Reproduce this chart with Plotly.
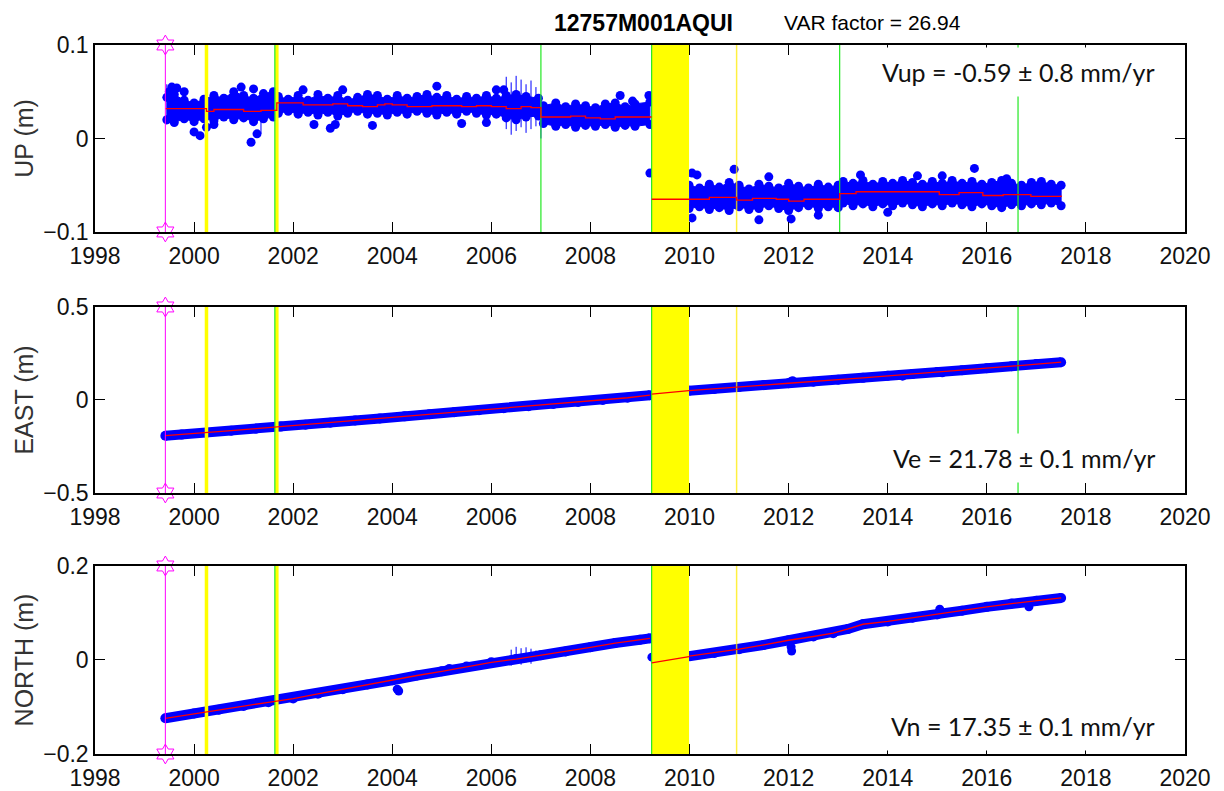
import plotly.graph_objects as go
from plotly.subplots import make_subplots

# ---------------- axes / labels ----------------
X_RANGE = [1998, 2020]
X_TICKS = [1998, 2000, 2002, 2004, 2006, 2008, 2010, 2012, 2014, 2016, 2018, 2020]
PANELS = ["UP", "EAST", "NORTH"]
Y_TITLES = ["UP (m)", "EAST (m)", "NORTH (m)"]
Y_RANGES = [[-0.1, 0.1], [-0.5, 0.5], [-0.2, 0.2]]
Y_TICKS = [[-0.1, 0, 0.1], [-0.5, 0, 0.5], [-0.2, 0, 0.2]]
Y_TICKTEXT = [["\u22120.1", "0", "0.1"], ["\u22120.5", "0", "0.5"], ["\u22120.2", "0", "0.2"]]
VEL_TEXT = ["Vup = -0.59 \u00b1 0.8 mm/yr", "Ve = 21.78 \u00b1 0.1 mm/yr", "Vn = 17.35 \u00b1 0.1 mm/yr"]
STATION = "12757M001AQUI"
VAR_TEXT = "VAR factor = 26.94"

# ---------------- events ----------------
MAGENTA_T = 1999.42
YELLOW_THICK_T = [2000.25, 2001.67]
GREEN_ALL_T = [2001.63, 2009.235]
YELLOW_THIN_T = [2010.95]
GREEN_EXTRA_T = [[2007.0, 2013.03, 2016.63], [2016.63], []]
GAP_T = [2009.235, 2009.99]

# ---------------- UP data (envelope of the daily points) ----------------
UP_A_T = [1999.45, 1999.6, 1999.8, 2000.0, 2000.2, 2000.4, 2000.6, 2000.8, 2001.0, 2001.2, 2001.4, 2001.6,
          2001.7, 2001.9, 2002.1, 2002.3, 2002.5, 2002.7, 2002.9, 2003.1, 2003.3, 2003.5, 2003.7, 2003.9,
          2004.1, 2004.3, 2004.5, 2004.7, 2004.9, 2005.1, 2005.3, 2005.5, 2005.7, 2005.9, 2006.1, 2006.3,
          2006.5, 2006.7, 2006.95,
          2007.05, 2007.3, 2007.5, 2007.7, 2007.9, 2008.1, 2008.3, 2008.5, 2008.7, 2008.9, 2009.2]
UP_A_HI = [0.044, 0.047, 0.041, 0.038, 0.042, 0.046, 0.043, 0.050, 0.046, 0.043, 0.048, 0.050,
           0.045, 0.042, 0.046, 0.041, 0.047, 0.043, 0.046, 0.041, 0.044, 0.047, 0.046, 0.042,
           0.046, 0.043, 0.045, 0.047, 0.044, 0.046, 0.042, 0.045, 0.043, 0.046, 0.043, 0.046,
           0.047, 0.045, 0.043,
           0.035, 0.038, 0.034, 0.037, 0.035, 0.033, 0.037, 0.038, 0.034, 0.037, 0.039]
UP_A_LO = [0.020, 0.017, 0.021, 0.018, 0.021, 0.019, 0.023, 0.020, 0.022, 0.018, 0.021, 0.023,
           0.027, 0.029, 0.026, 0.028, 0.025, 0.028, 0.024, 0.027, 0.029, 0.026, 0.027, 0.025,
           0.028, 0.026, 0.029, 0.027, 0.025, 0.028, 0.026, 0.029, 0.027, 0.025, 0.026, 0.022,
           0.020, 0.023, 0.024,
           0.016, 0.013, 0.015, 0.012, 0.014, 0.013, 0.015, 0.012, 0.014, 0.013, 0.015]
UP_B_T = [2009.99, 2010.2, 2010.4, 2010.6, 2010.8, 2011.0, 2011.2, 2011.4, 2011.6, 2011.8, 2012.0, 2012.2,
          2012.4, 2012.6, 2012.8, 2013.0,
          2013.1, 2013.3, 2013.5, 2013.7, 2013.9, 2014.1, 2014.3, 2014.5, 2014.7, 2014.9, 2015.1, 2015.3,
          2015.5, 2015.7, 2015.9, 2016.1, 2016.3, 2016.5, 2016.7, 2016.9, 2017.1, 2017.3, 2017.5]
UP_B_HI = [-0.050, -0.053, -0.049, -0.052, -0.047, -0.050, -0.054, -0.049, -0.051, -0.053, -0.048, -0.051,
           -0.053, -0.049, -0.052, -0.050,
           -0.046, -0.048, -0.045, -0.049, -0.046, -0.048, -0.045, -0.047, -0.049, -0.046, -0.048, -0.045,
           -0.048, -0.046, -0.049, -0.047, -0.045, -0.048, -0.050, -0.047, -0.046, -0.049, -0.050]
UP_B_LO = [-0.075, -0.073, -0.076, -0.074, -0.077, -0.073, -0.076, -0.075, -0.072, -0.075, -0.077, -0.074,
           -0.072, -0.075, -0.073, -0.074,
           -0.069, -0.072, -0.070, -0.073, -0.070, -0.072, -0.069, -0.071, -0.073, -0.070, -0.072, -0.069,
           -0.071, -0.073, -0.070, -0.072, -0.074, -0.071, -0.072, -0.070, -0.071, -0.069, -0.072]
UP_OUT_T = [1999.5, 1999.55, 1999.65, 1999.8, 2000.0, 2000.12, 2000.25, 2000.4, 2001.15, 2001.27, 2000.95,
            2001.2, 2002.2, 2002.42, 2002.75, 2002.85, 2003.6, 2004.9, 2005.4, 2006.1, 2006.25, 2008.6,
            2008.85, 2009.18, 2009.2, 2010.05, 2010.15, 2010.9, 2011.4, 2012.05, 2010.05, 2011.6, 2013.45,
            2014.6, 2015.75, 2015.1, 2016.4, 2003.0, 2005.9, 2012.6, 2014.0]
UP_OUT_V = [0.050, 0.055, 0.054, 0.050, 0.007, 0.003, 0.012, 0.015, -0.004, 0.005, 0.055,
            0.053, 0.052, 0.015, 0.011, 0.015, 0.014, 0.056, 0.016, 0.052, 0.052, 0.046,
            0.040, 0.046, -0.037, -0.037, -0.039, -0.033, -0.087, -0.086, -0.085, -0.041, -0.039,
            -0.040, -0.032, -0.040, -0.043, 0.052, 0.017, -0.082, -0.079]
UP_ERR_T = [1999.45, 2001.35, 2006.3, 2006.4, 2006.5, 2006.6, 2006.7, 2006.8, 2006.9, 2007.0]
UP_ERR_LO = [0.015, 0.005, 0.010, 0.004, 0.008, 0.012, 0.006, 0.010, 0.013, 0.000]
UP_ERR_HI = [0.058, 0.030, 0.066, 0.060, 0.067, 0.063, 0.058, 0.062, 0.055, 0.045]
UP_MODEL_A_T = [1999.42, 2000.25, 2000.4, 2000.7, 2001.0, 2001.35, 2001.67, 2002.2, 2002.5, 2002.8, 2003.1,
                2003.4, 2003.7, 2003.85, 2004.0, 2004.3, 2004.8, 2005.4, 2005.7, 2006.0, 2006.3, 2006.6,
                2006.8, 2007.0, 2007.6, 2007.9, 2008.2, 2008.5, 2008.8, 2009.235]
UP_MODEL_A_V = [0.032, 0.029, 0.031, 0.031, 0.029, 0.030, 0.038, 0.036, 0.036, 0.037, 0.035,
                0.034, 0.036, 0.037, 0.036, 0.034, 0.035, 0.034, 0.035, 0.034, 0.032, 0.034,
                0.033, 0.023, 0.024, 0.022, 0.021, 0.023, 0.023, 0.023]
UP_MODEL_B_T = [2009.235, 2010.4, 2010.95, 2011.27, 2011.75, 2012.0, 2012.31, 2013.03, 2013.36, 2014.48,
                2015.04, 2015.44, 2015.92, 2016.33, 2016.89, 2017.5]
UP_MODEL_B_V = [-0.065, -0.063, -0.066, -0.064, -0.065, -0.067, -0.065, -0.059, -0.057, -0.057,
                -0.060, -0.058, -0.061, -0.060, -0.062, -0.061]

# ---------------- EAST data ----------------
EAST_A_T = [1999.42, 1999.75, 2000.25, 2000.75, 2001.25, 2001.75, 2002.25, 2002.75, 2003.25, 2003.75,
            2004.25, 2004.75, 2005.25, 2005.75, 2006.25, 2006.75, 2007.25, 2007.75, 2008.25, 2008.75, 2009.2]
EAST_A_V = [-0.192, -0.186, -0.176, -0.165, -0.154, -0.143, -0.133, -0.122, -0.110, -0.099,
            -0.088, -0.077, -0.066, -0.055, -0.044, -0.033, -0.022, -0.011, 0.000, 0.012, 0.026]
EAST_B_T = [2009.99, 2010.5, 2011.0, 2011.5, 2012.0, 2012.5, 2013.0, 2013.5, 2014.0, 2014.5, 2015.0,
            2015.5, 2016.0, 2016.5, 2017.0, 2017.5]
EAST_B_V = [0.050, 0.059, 0.070, 0.080, 0.090, 0.098, 0.109, 0.119, 0.130, 0.140, 0.150,
            0.160, 0.171, 0.182, 0.193, 0.203]
EAST_OUT_T = [2012.05, 2012.08, 2014.3, 2015.1]
EAST_OUT_V = [0.100, 0.104, 0.128, 0.146]
EAST_GAP_MODEL_V = [0.032, 0.050]

# ---------------- NORTH data ----------------
NORTH_A_T = [1999.42, 2000.0, 2000.5, 2001.0, 2001.5, 2002.0, 2002.5, 2003.0, 2003.5, 2004.0, 2004.5,
             2005.0, 2005.5, 2006.0, 2006.5, 2007.0, 2007.5, 2008.0, 2008.5, 2009.0, 2009.2]
NORTH_A_V = [-0.124, -0.114, -0.106, -0.098, -0.090, -0.082, -0.072, -0.062, -0.052, -0.043, -0.033,
             -0.024, -0.014, -0.005, 0.002, 0.010, 0.018, 0.027, 0.036, 0.043, 0.046]
NORTH_B_T = [2009.99, 2010.5, 2011.0, 2011.5, 2012.0, 2012.5, 2012.9, 2013.2, 2013.5, 2014.0, 2014.5,
             2015.0, 2015.5, 2016.0, 2016.5, 2017.0, 2017.5]
NORTH_B_V = [0.008, 0.015, 0.023, 0.032, 0.042, 0.050, 0.057, 0.066, 0.076, 0.082, 0.090,
             0.097, 0.105, 0.113, 0.120, 0.126, 0.132]
NORTH_OUT_T = [2004.1, 2004.13, 2005.15, 2009.24, 2012.05, 2012.06, 2015.05, 2016.85]
NORTH_OUT_V = [-0.062, -0.066, -0.018, 0.006, 0.028, 0.019, 0.108, 0.113]
NORTH_ERR_T = [2006.4, 2006.5, 2006.6, 2006.7, 2006.8, 2006.9]
NORTH_ERR_LO = [-0.012, -0.008, -0.010, -0.005, -0.008, 0.000]
NORTH_ERR_HI = [0.022, 0.028, 0.025, 0.027, 0.024, 0.020]
NORTH_GAP_MODEL_V = [-0.006, 0.007]

# ---------------- styling ----------------
BLUE = "#0000FF"
RED = "#FF0000"
YELLOW = "#FFFF00"
GREEN = "#22E822"
MAGENTA = "#FF00FF"
TICK_FONT = dict(family="Liberation Sans, Arial, sans-serif", size=23, color="#111111")
TITLE_FONT = dict(family="Liberation Sans, Arial, sans-serif", size=25, color="#333333")
VEL_FONT = dict(family="Lato, sans-serif", size=25, color="#111111")
DOMAINS = [[0.7363, 1.0], [0.3681, 0.6305], [0.0, 0.2652]]
VEL_Y = [0.855, 0.19, 0.15]

fig = make_subplots(rows=3, cols=1)


def vline(row, t, yr, color, width):
    fig.add_trace(go.Scatter(x=[t, t], y=yr, mode="lines", line=dict(color=color, width=width),
                             hoverinfo="skip", showlegend=False), row=row, col=1)


def err_bars(row, ts, los, his):
    xs, ys = [], []
    for t, lo, hi in zip(ts, los, his):
        xs += [t, t, None]
        ys += [lo, hi, None]
    fig.add_trace(go.Scatter(x=xs, y=ys, mode="lines", line=dict(color=BLUE, width=1),
                             hoverinfo="skip", showlegend=False), row=row, col=1)


def band(row, ts, hi, lo):
    fig.add_trace(go.Scatter(x=ts + ts[::-1], y=hi + lo[::-1], mode="lines", fill="toself",
                             fillcolor=BLUE, line=dict(color=BLUE, width=1),
                             hoverinfo="skip", showlegend=False), row=row, col=1)
    fig.add_trace(go.Scatter(x=ts + ts, y=hi + lo, mode="markers",
                             marker=dict(color=BLUE, size=9),
                             hoverinfo="skip", showlegend=False), row=row, col=1)


def thick_series(row, ts, vs):
    fig.add_trace(go.Scatter(x=ts, y=vs, mode="lines+markers", line=dict(color=BLUE, width=10),
                             marker=dict(color=BLUE, size=10),
                             hoverinfo="skip", showlegend=False), row=row, col=1)


def points(row, ts, vs):
    fig.add_trace(go.Scatter(x=ts, y=vs, mode="markers", marker=dict(color=BLUE, size=9),
                             hoverinfo="skip", showlegend=False), row=row, col=1)


def model(row, ts, vs, shape="hv"):
    fig.add_trace(go.Scatter(x=ts, y=vs, mode="lines", line=dict(color=RED, width=1.3, shape=shape),
                             hoverinfo="skip", showlegend=False), row=row, col=1)


# ----- data layers -----
band(1, UP_A_T, UP_A_HI, UP_A_LO)
band(1, UP_B_T, UP_B_HI, UP_B_LO)
points(1, UP_OUT_T, UP_OUT_V)
err_bars(1, UP_ERR_T, UP_ERR_LO, UP_ERR_HI)

thick_series(2, EAST_A_T, EAST_A_V)
thick_series(2, EAST_B_T, EAST_B_V)
points(2, EAST_OUT_T, EAST_OUT_V)

thick_series(3, NORTH_A_T, NORTH_A_V)
thick_series(3, NORTH_B_T, NORTH_B_V)
points(3, NORTH_OUT_T, NORTH_OUT_V)
err_bars(3, NORTH_ERR_T, NORTH_ERR_LO, NORTH_ERR_HI)

# ----- event lines, gap, models, antenna change -----
for i in range(3):
    row = i + 1
    yr = Y_RANGES[i]
    fig.add_trace(go.Scatter(x=[GAP_T[0], GAP_T[1], GAP_T[1], GAP_T[0], GAP_T[0]],
                             y=[yr[0], yr[0], yr[1], yr[1], yr[0]], mode="lines", fill="toself",
                             fillcolor=YELLOW, line=dict(width=0, color=YELLOW),
                             hoverinfo="skip", showlegend=False), row=row, col=1)
    for t in YELLOW_THICK_T:
        vline(row, t, yr, YELLOW, 3.5)
    for t in YELLOW_THIN_T:
        vline(row, t, yr, "rgba(255,235,0,0.75)", 1.5)
    for t in GREEN_ALL_T + GREEN_EXTRA_T[i]:
        vline(row, t, yr, GREEN, 1.2)

model(1, UP_MODEL_A_T, UP_MODEL_A_V)
model(1, UP_MODEL_B_T, UP_MODEL_B_V)
model(2, EAST_A_T, EAST_A_V, shape="linear")
model(2, GAP_T, EAST_GAP_MODEL_V, shape="linear")
model(2, EAST_B_T, EAST_B_V, shape="linear")
model(3, NORTH_A_T, NORTH_A_V, shape="linear")
model(3, GAP_T, NORTH_GAP_MODEL_V, shape="linear")
model(3, NORTH_B_T, NORTH_B_V, shape="linear")

for i in range(3):
    yr = Y_RANGES[i]
    fig.add_trace(go.Scatter(x=[MAGENTA_T, MAGENTA_T], y=yr, mode="lines+markers",
                             line=dict(color=MAGENTA, width=1),
                             marker=dict(symbol="hexagram-open", size=15, color=MAGENTA,
                                         line=dict(width=1, color=MAGENTA)),
                             cliponaxis=False, hoverinfo="skip", showlegend=False), row=i + 1, col=1)

# ----- axes -----
for i in range(3):
    row = i + 1
    fig.update_xaxes(range=X_RANGE, tickvals=X_TICKS, ticks="inside", ticklen=10, tickwidth=1.2,
                     tickcolor="black", showline=True, linecolor="black", linewidth=1.5, mirror="ticks",
                     showgrid=False, zeroline=False, tickfont=TICK_FONT, ticklabelstandoff=3,
                     automargin=False, domain=[0, 1], row=row, col=1)
    fig.update_yaxes(range=Y_RANGES[i], tickvals=Y_TICKS[i], ticktext=Y_TICKTEXT[i], ticks="inside",
                     ticklen=10, tickwidth=1.2, tickcolor="black", showline=True, linecolor="black",
                     linewidth=1.5, mirror="ticks", showgrid=False, zeroline=False, tickfont=TICK_FONT,
                     title=dict(text=Y_TITLES[i], font=TITLE_FONT, standoff=2),
                     automargin=False, domain=DOMAINS[i], row=row, col=1)

annotations = []
for i in range(3):
    xa = "x" if i == 0 else "x%d" % (i + 1)
    ya = "y" if i == 0 else "y%d" % (i + 1)
    annotations.append(dict(text=VEL_TEXT[i], x=0.982, y=VEL_Y[i], xref=xa + " domain", yref=ya + " domain",
                            xanchor="right", yanchor="middle", showarrow=False, font=VEL_FONT,
                            bgcolor="white", borderpad=9))
annotations.append(dict(text="<b>" + STATION + "</b>", x=0.5028, y=1.0317, xref="paper", yref="paper",
                        xanchor="center", yanchor="middle", showarrow=False, borderpad=0,
                        font=dict(family="Liberation Sans, Arial, sans-serif", size=23, color="black")))
annotations.append(dict(text=VAR_TEXT, x=0.713, y=1.0317, xref="paper", yref="paper",
                        xanchor="center", yanchor="middle", showarrow=False, borderpad=0,
                        font=dict(family="Liberation Sans, Arial, sans-serif", size=21, color="black")))

# the page body adds an 8px offset, so the figure is 8px smaller and margins shifted accordingly
fig.update_layout(width=1216, height=783, margin=dict(l=87, r=39, t=37, b=37),
                  plot_bgcolor="white", paper_bgcolor="white", showlegend=False,
                  annotations=annotations)

fig.write_html("out.html")
